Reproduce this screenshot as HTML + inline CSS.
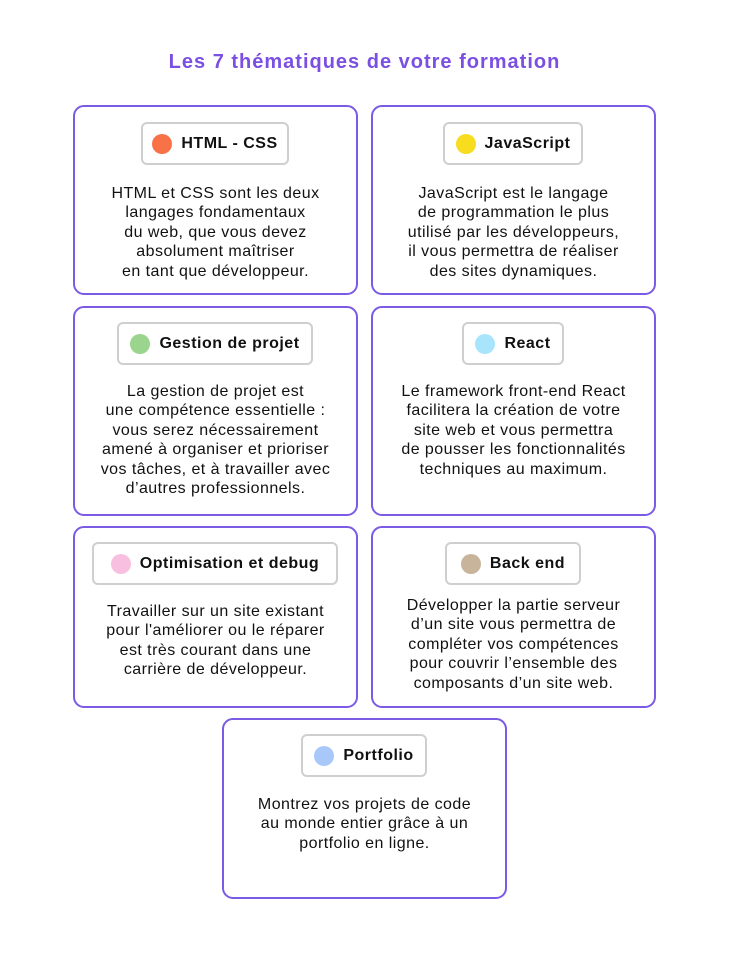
<!DOCTYPE html>
<html><head><meta charset="utf-8"><style>
body{margin:0;width:729px;height:955px;background:#fff;position:relative;font-family:"Liberation Sans",sans-serif;overflow:hidden}
.t{position:absolute;left:0;width:729px;top:51px;text-align:center;color:#7a4fe2;font-weight:bold;font-size:20px;letter-spacing:1px}
.c{position:absolute;border:2.5px solid #7b5be6;border-radius:11px;box-sizing:border-box}
.p{position:absolute;border:2px solid #cfcfcf;border-radius:6px;box-sizing:border-box;height:43px;display:flex;align-items:center;justify-content:center;font-weight:bold;font-size:16px;letter-spacing:0.5px;color:#111}
.p i{display:inline-block;width:20px;height:20px;border-radius:50%;margin-right:9px}
.x{position:absolute;text-align:center;font-size:16px;letter-spacing:0.45px;line-height:19.4px;color:#111}
</style></head><body>
<div class="t">Les 7 thématiques de votre formation</div>

<div class="c" style="left:73px;top:105px;width:285px;height:190px"></div>
<div class="p" style="left:141px;top:122px;width:148px"><i style="background:#f87147"></i>HTML - CSS</div>
<div class="x" style="left:73px;width:285px;top:184px">HTML et CSS sont les deux<br>langages fondamentaux<br>du web, que vous devez<br>absolument maîtriser<br>en tant que développeur.</div>

<div class="c" style="left:371px;top:105px;width:285px;height:190px"></div>
<div class="p" style="left:443px;top:122px;width:140px"><i style="background:#f7dd1e"></i>JavaScript</div>
<div class="x" style="left:371px;width:285px;top:184px">JavaScript est le langage<br>de programmation le plus<br>utilisé par les développeurs,<br>il vous permettra de réaliser<br>des sites dynamiques.</div>

<div class="c" style="left:73px;top:306px;width:285px;height:210px"></div>
<div class="p" style="left:117px;top:322px;width:196px"><i style="background:#9bd48c"></i>Gestion de projet</div>
<div class="x" style="left:73px;width:285px;top:382px">La gestion de projet est<br>une compétence essentielle :<br>vous serez nécessairement<br>amené à organiser et prioriser<br>vos tâches, et à travailler avec<br>d’autres professionnels.</div>

<div class="c" style="left:371px;top:306px;width:285px;height:210px"></div>
<div class="p" style="left:462px;top:322px;width:102px"><i style="background:#a8e4fb"></i>React</div>
<div class="x" style="left:371px;width:285px;top:382px">Le framework front-end React<br>facilitera la création de votre<br>site web et vous permettra<br>de pousser les fonctionnalités<br>techniques au maximum.</div>

<div class="c" style="left:73px;top:526px;width:285px;height:182px"></div>
<div class="p" style="left:92px;top:542px;width:246px"><i style="background:#f8bfe0"></i>Optimisation et debug</div>
<div class="x" style="left:73px;width:285px;top:602px">Travailler sur un site existant<br>pour l'améliorer ou le réparer<br>est très courant dans une<br>carrière de développeur.</div>

<div class="c" style="left:371px;top:526px;width:285px;height:182px"></div>
<div class="p" style="left:445px;top:542px;width:136px"><i style="background:#c8b49a"></i>Back end</div>
<div class="x" style="left:371px;width:285px;top:596px">Développer la partie serveur<br>d’un site vous permettra de<br>compléter vos compétences<br>pour couvrir l’ensemble des<br>composants d’un site web.</div>

<div class="c" style="left:222px;top:718px;width:285px;height:181px"></div>
<div class="p" style="left:301px;top:734px;width:126px"><i style="background:#a9c8fa"></i>Portfolio</div>
<div class="x" style="left:222px;width:285px;top:795px">Montrez vos projets de code<br>au monde entier grâce à un<br>portfolio en ligne.</div>
</body></html>
